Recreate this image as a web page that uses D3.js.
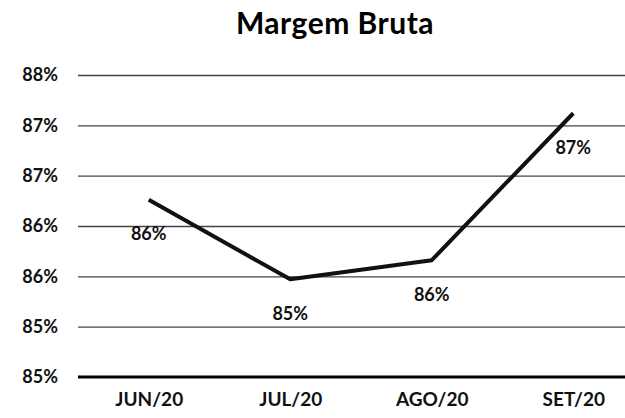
<!DOCTYPE html>
<html>
<head>
<meta charset="utf-8">
<script src="https://cdn.jsdelivr.net/npm/d3@7"></script>
<style>
    body { margin: 0; background: #fff; }
    svg { display: block; font-family: Lato, "Open Sans", sans-serif; }
</style>
</head>
<body>
<div id="chart"></div>
<script>
    // data
    var months = ["JUN/20", "JUL/20", "AGO/20", "SET/20"];
    var margem = [0.8626, 0.8547, 0.8566, 0.8712];
    var tickValues = [0.845, 0.850, 0.855, 0.860, 0.865, 0.870, 0.875];
    var tickLabels = ["85%", "85%", "86%", "86%", "87%", "87%", "88%"];

    var vWidth = 625, vHeight = 418;
    var vMargin = { mTop: 75, mBottom: 41, mLeft: 78 };
    var vPlotRight = 644; // plot is cut off by the right edge

    var svg = d3.select("#chart").append("svg")
        .attr("width", vWidth)
        .attr("height", vHeight);

    var x = d3.scalePoint()
        .domain(months)
        .range([vMargin.mLeft, vPlotRight])
        .padding(0.5);

    var y = d3.scaleLinear()
        .domain([0.845, 0.875])
        .range([vHeight - vMargin.mBottom, vMargin.mTop]);

    // title
    svg.append("text")
        .attr("x", 335)
        .attr("y", 34)
        .attr("text-anchor", "middle")
        .style("font-size", "30px")
        .style("font-weight", "bold")
        .style("letter-spacing", "0.5px")
        .text("Margem Bruta");

    // gridlines + y labels
    var yAxis = d3.axisLeft(y)
        .tickValues(tickValues.slice(1))
        .tickSize(-(vWidth - vMargin.mLeft))
        .tickFormat(function (d) { return tickLabels[tickValues.indexOf(d)]; });

    var gY = svg.append("g")
        .attr("transform", "translate(" + vMargin.mLeft + ",0)")
        .call(yAxis);
    gY.select(".domain").remove();
    gY.selectAll(".tick line")
        .attr("stroke", "#444")
        .attr("stroke-width", 1.3);
    gY.selectAll(".tick text")
        .attr("x", -20)
        .style("font-size", "18px")
        .style("font-weight", "bold")
        .style("font-family", "Lato, sans-serif")
        .attr("fill", "#111");

    // label for the baseline tick
    svg.append("text")
        .attr("x", vMargin.mLeft - 20)
        .attr("y", y(tickValues[0]))
        .attr("dy", "0.32em")
        .attr("text-anchor", "end")
        .style("font-size", "18px")
        .style("font-weight", "bold")
        .attr("fill", "#111")
        .text(tickLabels[0]);

    // x axis
    var gX = svg.append("g")
        .attr("transform", "translate(0," + y(tickValues[0]) + ")")
        .call(d3.axisBottom(x).tickSize(0).tickPadding(16));
    gX.select(".domain")
        .attr("d", "M" + vMargin.mLeft + ",0H" + vWidth)
        .attr("stroke", "#000")
        .attr("stroke-width", 3);
    gX.selectAll(".tick text")
        .style("font-size", "19px")
        .style("font-weight", "bold")
        .style("font-family", "Lato, sans-serif")
        .attr("fill", "#111");

    // line
    var line = d3.line()
        .x(function (d, i) { return x(months[i]); })
        .y(function (d) { return y(d); });

    svg.append("path")
        .datum(margem)
        .attr("fill", "none")
        .attr("stroke", "#111")
        .attr("stroke-width", 4)
        .attr("stroke-linejoin", "round")
        .attr("d", line);

    // data labels
    svg.selectAll(".lbl")
        .data(margem)
        .enter()
        .append("text")
        .attr("class", "lbl")
        .attr("x", function (d, i) { return x(months[i]); })
        .attr("y", function (d) { return y(d) + 34; })
        .attr("dy", "0.35em")
        .attr("text-anchor", "middle")
        .style("font-size", "18px")
        .style("font-weight", "bold")
        .attr("fill", "#111")
        .text(function (d) { return d3.format(".0%")(d); });
</script>
</body>
</html>
